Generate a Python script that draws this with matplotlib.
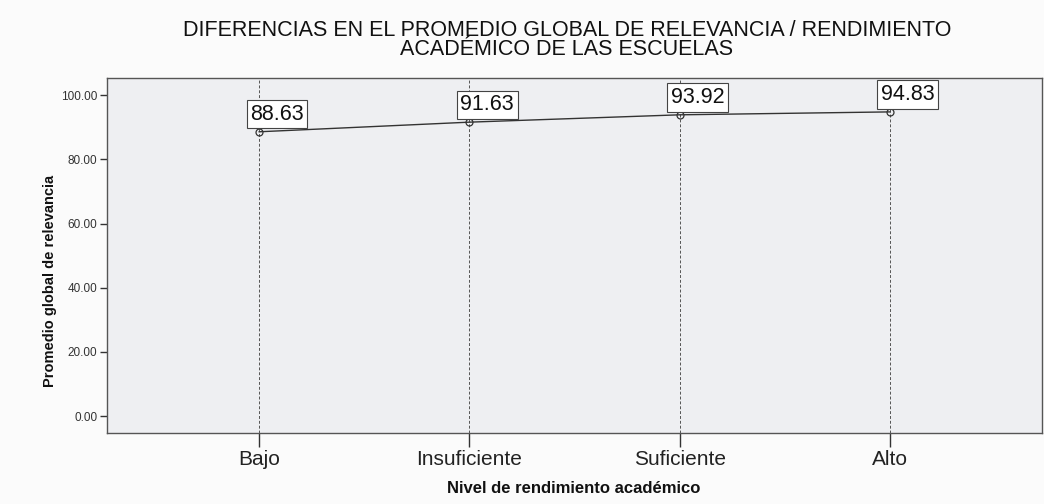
import matplotlib.pyplot as plt

plt.rcParams['font.family'] = ['Liberation Sans', 'DejaVu Sans']

niveles = ["Bajo", "Insuficiente", "Suficiente", "Alto"]
promedios = [88.63, 91.63, 93.92, 94.83]
yticks = [0, 20, 40, 60, 80, 100]
titulo = ["DIFERENCIAS EN EL PROMEDIO GLOBAL DE RELEVANCIA / RENDIMIENTO",
          "ACADÉMICO DE LAS ESCUELAS"]

W, H = 1044, 504
fig = plt.figure(figsize=(W / 100, H / 100), dpi=100, facecolor="#fbfbfb")
ax = fig.add_axes([107 / W, 1 - 433 / H, 935 / W, 355 / H])
ax.set_facecolor("#eeeff2")

x = list(range(len(niveles)))
for xi in x:
    ax.axvline(xi, color="#555555", linestyle=(0, (3, 2)), linewidth=0.7, zorder=1)

ax.plot(x, promedios, color="#333333", linewidth=1.0, marker="o", markersize=5,
        markerfacecolor="none", markeredgecolor="#333333", markeredgewidth=0.9, zorder=3)

for xi, v in zip(x, promedios):
    ax.annotate(f"{v:.2f}", (xi, v), xytext=(-6.5, 5), textcoords="offset points",
                ha="left", va="bottom", fontsize=15.5, color="#111111",
                bbox=dict(boxstyle="square,pad=0.17", facecolor="white",
                          edgecolor="#444444", linewidth=0.8), zorder=4)

ax.set_xlim(-0.724, 3.724)
ax.set_ylim(-5.3, 105.4)
ax.set_xticks(x)
ax.set_xticklabels(niveles, fontsize=15, color="#222222")
ax.set_yticks(yticks)
ax.set_yticklabels([f"{t:.2f}" for t in yticks], fontsize=8.5, color="#333333")
ax.tick_params(axis="both", direction="out", color="#333333", width=1.0)
ax.tick_params(axis="x", length=10, pad=2)
ax.tick_params(axis="y", length=5, pad=2)
for s in ax.spines.values():
    s.set_color("#555555")
    s.set_linewidth(1.0)

ax.set_xlabel("Nivel de rendimiento académico", fontsize=12, fontweight="bold",
              color="#111111")
ax.xaxis.set_label_coords((574 - 107) / 935, -(493 - 433) / 355)
ax.xaxis.label.set_va("baseline")
ax.set_ylabel("Promedio global de relevancia", fontsize=10.5, fontweight="bold",
              color="#111111")
ax.yaxis.set_label_coords(-(107 - 50) / 935, (433 - 281) / 355)
ax.yaxis.label.set_va("center")

fig.text(567 / W, 1 - 36 / H, titulo[0], ha="center", va="baseline",
         fontsize=15.5, color="#111111")
fig.text(567 / W, 1 - 55 / H, titulo[1], ha="center", va="baseline",
         fontsize=15.5, color="#111111")

fig.savefig("out.png", dpi=100, facecolor=fig.get_facecolor())
